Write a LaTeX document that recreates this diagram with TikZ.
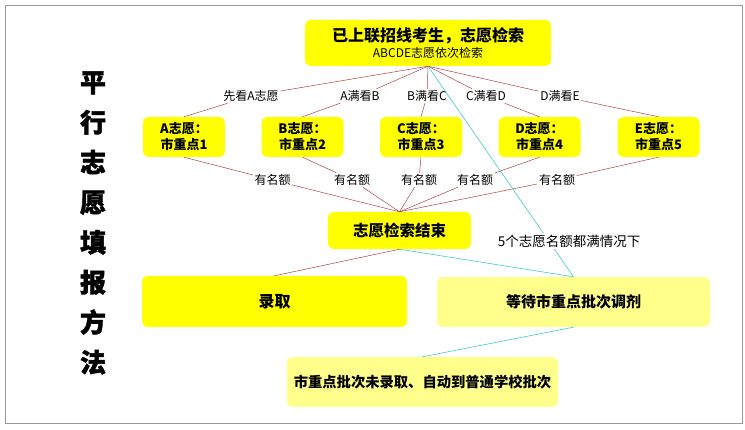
\documentclass[tikz,border=0pt]{standalone}
\usepackage{fontspec}
\setmainfont{Noto Sans CJK SC}
\newfontfamily\heavyfont{Noto Sans CJK SC}[BoldFeatures={FakeBold=1.5}]
\definecolor{yy}{HTML}{FFFF00}
\definecolor{pale}{HTML}{FFFF8C}
\definecolor{redline}{HTML}{B04040}
\definecolor{cyanline}{HTML}{40CCC4}
\definecolor{framegray}{HTML}{999999}
\begin{document}
\begin{tikzpicture}[x=1pt,y=-1pt,
  ybox/.style={draw=none,fill=yy,rounded corners=6pt,inner sep=0pt,align=center,font=\bfseries},
  pbox/.style={ybox,fill=pale},
  rowbox/.style={ybox,minimum width=82pt,minimum height=40pt,font=\fontsize{13}{16}\selectfont\bfseries},
  lbl/.style={inner sep=1.5pt,font=\fontsize{12}{14}\selectfont},
  rl/.style={draw=redline,line width=0.5pt},
  cl/.style={draw=cyanline,line width=0.6pt}]
\useasboundingbox (0,0) rectangle (745,430);
\draw[framegray,line width=1pt] (5,6) rectangle (742,424);

% vertical title
\node[align=center,font=\fontsize{26}{40}\selectfont\heavyfont\bfseries] (title) at (93,223)
  {平\\行\\志\\愿\\填\\报\\方\\法};

% top box
\node[ybox,minimum width=246pt,minimum height=46pt] (top) at (428,43)
  {{\fontsize{16}{16}\selectfont\bfseries 已上联招线考生，志愿检索}\\[3pt]
   {\fontsize{12}{13}\selectfont\mdseries ABCDE志愿依次检索}};

% first-level labels
\node[lbl] (l1) at (251,96) {先看A志愿};
\node[lbl] (l2) at (360,96) {A满看B};
\node[lbl] (l3) at (427,96) {B满看C};
\node[lbl] (l4) at (486,96) {C满看D};
\node[lbl] (l5) at (560,96) {D满看E};

% row boxes
\node[rowbox] (a) at (184,137) {A志愿：\\市重点1};
\node[rowbox] (b) at (302.5,137) {B志愿：\\市重点2};
\node[rowbox] (c) at (421,137) {C志愿：\\市重点3};
\node[rowbox] (d) at (539.5,137) {D志愿：\\市重点4};
\node[rowbox] (e) at (658.5,137) {E志愿：\\市重点5};

% 有名额 labels
\node[lbl] (y1) at (272.5,180) {有名额};
\node[lbl] (y2) at (352,180) {有名额};
\node[lbl] (y3) at (419,180) {有名额};
\node[lbl] (y4) at (475,180) {有名额};
\node[lbl] (y5) at (557,180) {有名额};

% end box
\node[ybox,minimum width=143pt,minimum height=37pt,font=\fontsize{15.5}{18}\selectfont\bfseries] (end) at (399.5,230.5) {志愿检索结束};

% lower boxes
\node[ybox,minimum width=265pt,minimum height=51pt,font=\fontsize{16}{18}\selectfont\bfseries] (lq) at (274.5,301.5) {录取};
\node[pbox,minimum width=273pt,minimum height=50pt,font=\fontsize{15}{18}\selectfont\bfseries] (wait) at (573.5,302) {等待市重点批次调剂};
\node[pbox,minimum width=271pt,minimum height=50pt,font=\fontsize{14.3}{18}\selectfont\bfseries] (low) at (422.5,382) {市重点批次未录取、自动到普通学校批次};

% red connectors
\draw[rl] (top.south) -- (l1) -- (a.north);
\draw[rl] (top.south) -- (l2) -- (b.north);
\draw[rl] (top.south) -- (l3) -- (c.north);
\draw[rl] (top.south) -- (l4) -- (d.north);
\draw[rl] (top.south) -- (l5) -- (e.north);
\draw[rl] (a.south) -- (y1) -- (end.north);
\draw[rl] (b.south) -- (y2) -- (end.north);
\draw[rl] (c.south) -- (y3) -- (end.north);
\draw[rl] (d.south) -- (y4) -- (end.north);
\draw[rl] (e.south) -- (y5) -- (end.north);
\draw[rl] (end.south) -- (lq.north);

% cyan connectors
\draw[cl] (top.south) -- (wait.north);
\draw[cl] (end.south) -- (wait.north);
\draw[cl] (wait.south) -- (low.north);
\node[lbl,fill=white,font=\fontsize{13.5}{16}\selectfont] (full) at (569,241) {5个志愿名额都满情况下};
\end{tikzpicture}
\end{document}
